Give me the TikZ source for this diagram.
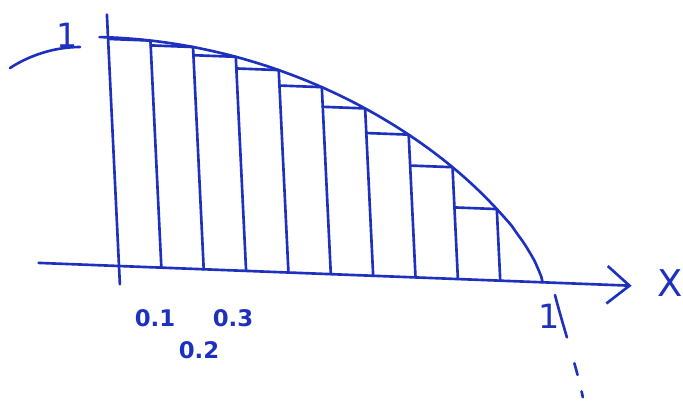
\documentclass[tikz,border=0pt]{standalone}
\usepackage{fontspec}
\setmainfont{DejaVu Sans}
\definecolor{inkblue}{RGB}{30,48,190}
\usetikzlibrary{arrows.meta}

\begin{document}
\begin{tikzpicture}[
  x=0.02cm, y=-0.02cm,
  ink/.style={draw=inkblue,line width=1.5pt,line cap=round,line join=round},
  lbl/.style={text=inkblue,inner sep=0pt,font=\bfseries\fontsize{13}{13}\selectfont},
  biglbl/.style={lbl,font=\fontsize{19}{19}\selectfont},
]
  \useasboundingbox (0,0) rectangle (683,400);

  % graph in the (slightly skewed) frame of the sketch
  \begin{scope}[shift={(119,266)}, x={(8.474cm,-0.326cm)}, y={(-0.22cm,4.574cm)},
      declare function={f(\t)=(max(1-\t*\t,0.00001))^0.7;}]
    \coordinate (orig) at (0,0);
    \coordinate (xone) at (1,0);

    % axes
    \draw[ink] (0,-0.08) -- (0,1.1);
    \draw[ink,-{Straight Barb[length=4.5mm,width=7.5mm]}] (-0.19,0) -- (1.21,0);

    % curve
    \draw[ink] plot[domain=-0.02:0.998,samples=80,smooth,variable=\t] (\t,{f(\t)}) -- (xone);

    % rectangles, height at right end
    \foreach \k in {1,...,9}{
      \draw[ink] ({(\k-1)/10},{f(\k/10)}) -- ({\k/10},{f(\k/10)}) -- ({\k/10},0);
    }
  \end{scope}

  % left part of the curve
  \draw[ink] (80,47) .. controls (55,47) and (30,55) .. (10,68);
  % continuation below the axis
  \draw[ink,dash pattern=on 0.88cm off 0.54cm on 0.24cm off 0.34cm on 0.12cm]
    (555,295) .. controls (564,330) and (577,368) .. (583,398);

  % labels
  \node[biglbl] (yone) at (67,35) {1};
  \node[biglbl] (xonelbl) at (549,316) {1};
  \node[lbl] (lab1) at (155,318) {0.1};
  \node[lbl] (lab3) at (233,318) {0.3};
  \node[lbl] (lab2) at (199,350) {0.2};
  \node[lbl,font=\fontsize{21}{21}\selectfont] (xlbl) at (670,283) {X};
\end{tikzpicture}
\end{document}
